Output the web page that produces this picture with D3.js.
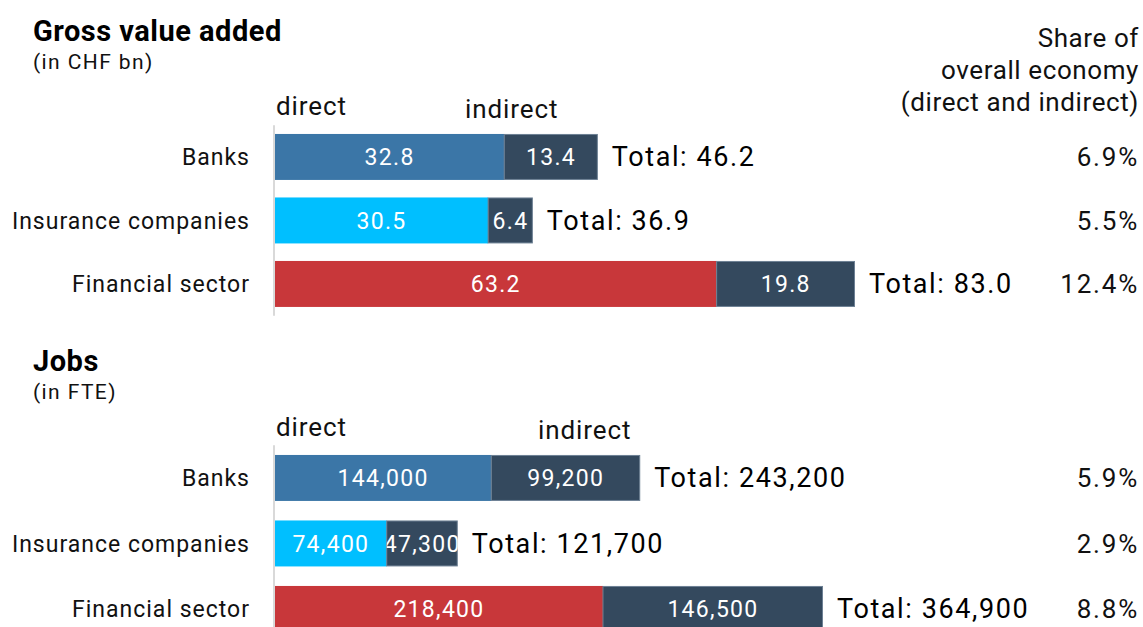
<!DOCTYPE html>
<html>
<head>
<meta charset="utf-8">
<script src="https://cdn.jsdelivr.net/npm/d3@7"></script>
<style>
  body { margin: 0; background: #fff; }
  svg { font-family: Roboto, "Liberation Sans", sans-serif; }
</style>
</head>
<body>
<div id="chart"></div>
<script>
const categories = ['Banks', 'Insurance companies', 'Financial sector'];
const directColors = ['#3b76a7', '#00bfff', '#c8373a'];
const indirectColor = '#34495e';

const gvaDirect = [32.8, 30.5, 63.2];
const gvaIndirect = [13.4, 6.4, 19.8];
const gvaTotal = [46.2, 36.9, 83.0];
const gvaShare = ['6.9%', '5.5%', '12.4%'];

const jobsDirect = [144000, 74400, 218400];
const jobsIndirect = [99200, 47300, 146500];
const jobsTotal = [243200, 121700, 364900];
const jobsShare = ['5.9%', '2.9%', '8.8%'];

const width = 1143, height = 627;

const svg = d3.select('#chart').append('svg')
    .attr('width', width)
    .attr('height', height);
const defs = svg.append('defs');

// right column header
svg.append('text')
    .attr('text-anchor', 'end')
    .attr('font-size', 26)
    .attr('letter-spacing', 0.6)
    .attr('fill', '#111')
    .selectAll('tspan')
    .data(['Share of', 'overall economy', '(direct and indirect)'])
    .join('tspan')
      .attr('x', 1139)
      .attr('y', (d, i) => 47 + i * 32)
      .text(d => d);

let clipId = 0;

function panel(opt) {
    const g = svg.append('g');

    g.append('text')
        .attr('x', 33).attr('y', opt.titleY)
        .attr('font-size', 29).attr('font-weight', 'bold')
        .attr('letter-spacing', 0.5).attr('fill', '#000')
        .text(opt.title);
    g.append('text')
        .attr('x', 33).attr('y', opt.titleY + 28)
        .attr('font-size', 21).attr('letter-spacing', 1.4).attr('fill', '#111')
        .text(opt.subtitle);

    g.append('text')
        .attr('x', 276).attr('y', opt.headY)
        .attr('font-size', 26).attr('letter-spacing', 0.9).attr('fill', '#111')
        .text('direct');
    g.append('text')
        .attr('x', opt.indirectX).attr('y', opt.headY + 3)
        .attr('font-size', 26).attr('letter-spacing', 0.9).attr('fill', '#111')
        .text('indirect');

    const x = d3.scaleLinear()
        .domain([0, d3.max(opt.total)])
        .range([275, opt.xEnd]);

    const y = d3.scaleBand()
        .domain(categories)
        .range(opt.yRange)
        .paddingInner(opt.pad)
        .paddingOuter(opt.pad / 2);

    // axis line
    g.append('line')
        .attr('x1', 274).attr('x2', 274)
        .attr('y1', opt.yRange[0]).attr('y2', Math.min(opt.yRange[1], height))
        .attr('stroke', '#d9d9d9').attr('stroke-width', 2);

    const rows = categories.map((c, i) => ({
        cat: c, direct: opt.direct[i], indirect: opt.indirect[i],
        total: opt.total[i], share: opt.share[i], color: directColors[i],
        id: clipId++
    }));

    const row = g.selectAll('g.row')
        .data(rows)
        .join('g')
        .attr('class', 'row');

    row.append('text')
        .attr('x', 250)
        .attr('y', d => y(d.cat) + y.bandwidth() / 2)
        .attr('dy', '0.35em')
        .attr('text-anchor', 'end')
        .attr('font-size', 23)
        .attr('letter-spacing', 1)
        .attr('fill', '#111')
        .text(d => d.cat);

    row.append('rect')
        .attr('x', x(0))
        .attr('y', d => y(d.cat))
        .attr('width', d => x(d.direct) - x(0))
        .attr('height', y.bandwidth())
        .attr('fill', d => d.color);

    row.append('rect')
        .attr('x', d => x(d.direct))
        .attr('y', d => y(d.cat) + 0.5)
        .attr('width', d => x(d.direct + d.indirect) - x(d.direct) - 0.5)
        .attr('height', y.bandwidth() - 1)
        .attr('fill', indirectColor)
        .attr('stroke', '#6d8094')
        .attr('stroke-width', 1);

    // clip the value labels to their own segment
    rows.forEach(d => {
        defs.append('clipPath').attr('id', 'cd' + d.id)
          .append('rect')
            .attr('x', x(0)).attr('y', y(d.cat))
            .attr('width', x(d.direct) - x(0)).attr('height', y.bandwidth());
        defs.append('clipPath').attr('id', 'ci' + d.id)
          .append('rect')
            .attr('x', x(d.direct)).attr('y', y(d.cat))
            .attr('width', x(d.direct + d.indirect) - x(d.direct)).attr('height', y.bandwidth());
    });

    row.append('text')
        .attr('clip-path', d => `url(#cd${d.id})`)
        .attr('x', d => (x(0) + x(d.direct)) / 2)
        .attr('y', d => y(d.cat) + y.bandwidth() / 2)
        .attr('dy', '0.35em')
        .attr('text-anchor', 'middle')
        .attr('font-size', 23)
        .attr('letter-spacing', 1.3)
        .attr('fill', '#fff')
        .text(d => opt.fmt(d.direct));

    row.append('text')
        .attr('clip-path', d => `url(#ci${d.id})`)
        .attr('x', d => (x(d.direct) + x(d.direct + d.indirect)) / 2)
        .attr('y', d => y(d.cat) + y.bandwidth() / 2)
        .attr('dy', '0.35em')
        .attr('text-anchor', 'middle')
        .attr('font-size', 23)
        .attr('letter-spacing', 1.3)
        .attr('fill', '#fff')
        .text(d => opt.fmt(d.indirect));

    row.append('text')
        .attr('x', d => x(d.total) + 14)
        .attr('y', d => y(d.cat) + y.bandwidth() / 2)
        .attr('dy', '0.35em')
        .attr('font-size', 27)
        .attr('letter-spacing', 1.6)
        .attr('fill', '#000')
        .text(d => 'Total: ' + opt.fmtTotal(d.total));

    row.append('text')
        .attr('x', 1139)
        .attr('y', d => y(d.cat) + y.bandwidth() / 2)
        .attr('dy', '0.35em')
        .attr('text-anchor', 'end')
        .attr('font-size', 26)
        .attr('letter-spacing', 1.8)
        .attr('fill', '#111')
        .text(d => d.share);
}

panel({
    title: 'Gross value added', subtitle: '(in CHF bn)', titleY: 41,
    headY: 115, indirectX: 465,
    direct: gvaDirect, indirect: gvaIndirect, total: gvaTotal, share: gvaShare,
    xEnd: 855, yRange: [125.2, 315.7], pad: 0.276,
    fmt: d3.format('.1f'), fmtTotal: d3.format('.1f')
});

panel({
    title: 'Jobs', subtitle: '(in FTE)', titleY: 371,
    headY: 436, indirectX: 538,
    direct: jobsDirect, indirect: jobsIndirect, total: jobsTotal, share: jobsShare,
    xEnd: 823, yRange: [445.2, 641.7], pad: 0.298,
    fmt: d3.format(','), fmtTotal: d3.format(',')
});
</script>
</body>
</html>
